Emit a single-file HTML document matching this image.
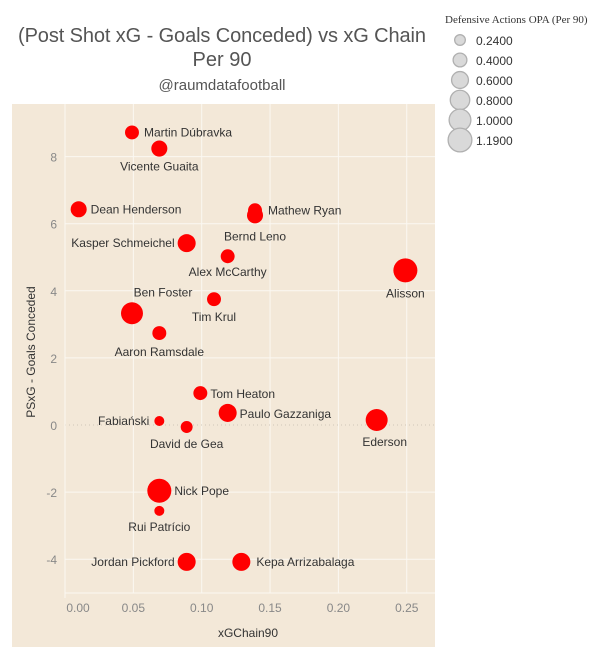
<!DOCTYPE html>
<html><head><meta charset="utf-8"><style>
html,body{margin:0;padding:0;background:#fff;width:600px;height:660px;overflow:hidden}
svg{display:block;font-family:"Liberation Sans",sans-serif}
</style></head><body>
<svg id="chart" width="600" height="660">
<rect x="12" y="104" width="423" height="543" fill="#f3e8d8"/>
<text x="222" y="42" text-anchor="middle" font-size="20" fill="#555" textLength="408">(Post Shot xG - Goals Conceded) vs xG Chain</text>
<text x="222" y="66" text-anchor="middle" font-size="20" fill="#555">Per 90</text>
<text x="222" y="90" text-anchor="middle" font-size="15" fill="#555">@raumdatafootball</text>
<g id="grid"></g><g id="axes"></g><g id="marks"></g>
<text x="248" y="637" text-anchor="middle" font-size="12" fill="#333">xGChain90</text>
<text transform="translate(35,352) rotate(-90)" text-anchor="middle" font-size="12" fill="#333">PSxG - Goals Conceded</text>
<g id="legend">
<text x="445" y="23" font-family="Liberation Serif,serif" font-size="11" fill="#333">Defensive Actions OPA (Per 90)</text>
</g>
</svg>
<script>
const players=["Martin Dúbravka","Vicente Guaita","Dean Henderson","Mathew Ryan","Bernd Leno","Kasper Schmeichel","Alex McCarthy","Alisson","Tim Krul","Ben Foster","Aaron Ramsdale","Tom Heaton","Paulo Gazzaniga","Ederson","Fabiański","David de Gea","Nick Pope","Rui Patrício","Jordan Pickford","Kepa Arrizabalaga"];
const xgChain=[0.049,0.069,0.010,0.139,0.139,0.089,0.119,0.249,0.109,0.049,0.069,0.099,0.119,0.228,0.069,0.089,0.069,0.069,0.089,0.129];
const psxgDiff=[8.72,8.24,6.43,6.40,6.25,5.42,5.03,4.61,3.75,3.33,2.74,0.95,0.36,0.15,0.12,-0.06,-1.96,-2.56,-4.08,-4.08];
const defActions=[0.37,0.49,0.49,0.37,0.49,0.62,0.37,1.10,0.37,0.92,0.37,0.37,0.62,0.92,0.19,0.27,1.10,0.19,0.62,0.62];
const xTicks=[0,0.05,0.10,0.15,0.20,0.25];
const xTickLabels=["0.00","0.05","0.10","0.15","0.20","0.25"];
const yTicks=[-4,-2,0,2,4,6,8];
const yTickLabels=["-4","-2","0","2","4","6","8"];
const legendValues=[0.24,0.40,0.60,0.80,1.00,1.19];
const legendLabels=["0.2400","0.4000","0.6000","0.8000","1.0000","1.1900"];
// label placement: [dx, dy, anchor]  (style, not data)
const labelPos=[[12,4,"start"],[0,22,"middle"],[12,4,"start"],[13,4,"start"],[0,25,"middle"],[-12,4,"end"],[0,20,"middle"],[0,27,"middle"],[0,22,"middle"],[31,-17,"middle"],[0,23,"middle"],[10,5,"start"],[12,5,"start"],[8,26,"middle"],[-10,4,"end"],[0,21,"middle"],[15,4,"start"],[0,20,"middle"],[-12,4,"end"],[15,4,"start"]];
const NS="http://www.w3.org/2000/svg";
const X=v=>65+v*1367;
const Y=v=>425-v*33.55;
const R=v=>12.5*Math.sqrt(v/1.19);
function mk(t,a,p){const e=document.createElementNS(NS,t);for(const k in a)e.setAttribute(k,a[k]);p.appendChild(e);return e;}
const grid=document.getElementById('grid'),axes=document.getElementById('axes'),marks=document.getElementById('marks'),legend=document.getElementById('legend');
xTicks.forEach((t,i)=>{
 if(t>0){const l=mk('line',{x1:X(t),x2:X(t),y1:104,y2:593,stroke:'#fbf8f2','stroke-width':1},grid);
 
 }
 const tx=mk('text',{x:Math.max(X(t),78),y:612,'text-anchor':'middle','font-size':12,fill:'#888'},axes);tx.textContent=xTickLabels[i];
 
 
});
yTicks.forEach((t,i)=>{
 const l=mk('line',{x1:65,x2:435,y1:Y(t),y2:Y(t),stroke:t===0?'#cfc6b8':'#fbf8f2','stroke-width':1,'stroke-dasharray':t===0?'1,3':'none'},grid);
 
 
 const tx=mk('text',{x:57,y:Y(t)+5,'text-anchor':'end','font-size':12,fill:'#888'},axes);tx.textContent=yTickLabels[i];
 
 
});
const ax=mk('line',{x1:65,x2:65,y1:104,y2:598,stroke:'#fbf8f2'},axes);


const bx=mk('line',{x1:65,x2:435,y1:593,y2:593,stroke:'#fbf8f2'},axes);


players.forEach((p,i)=>{
 const cx=X(xgChain[i]),cy=Y(psxgDiff[i]);
 const c=mk('circle',{cx:cx,cy:cy,r:R(defActions[i]),fill:'#ff0000'},marks);
 
 
 const lp=labelPos[i];
 const t=mk('text',{x:cx+lp[0],y:cy+lp[1],'text-anchor':lp[2],'font-size':12,fill:'#333'},marks);t.textContent=p;
 
 
});
legendValues.forEach((v,i)=>{
 const y=40+i*20;
 const c=mk('circle',{cx:460,cy:y,r:R(v)*0.95,fill:'#d9d9d9',stroke:'#b0b0b0','stroke-width':1.3},legend);
 
 
 const t=mk('text',{x:476,y:y+5,'font-size':12,fill:'#333'},legend);t.textContent=legendLabels[i];
 
 
});
</script>
</body></html>
